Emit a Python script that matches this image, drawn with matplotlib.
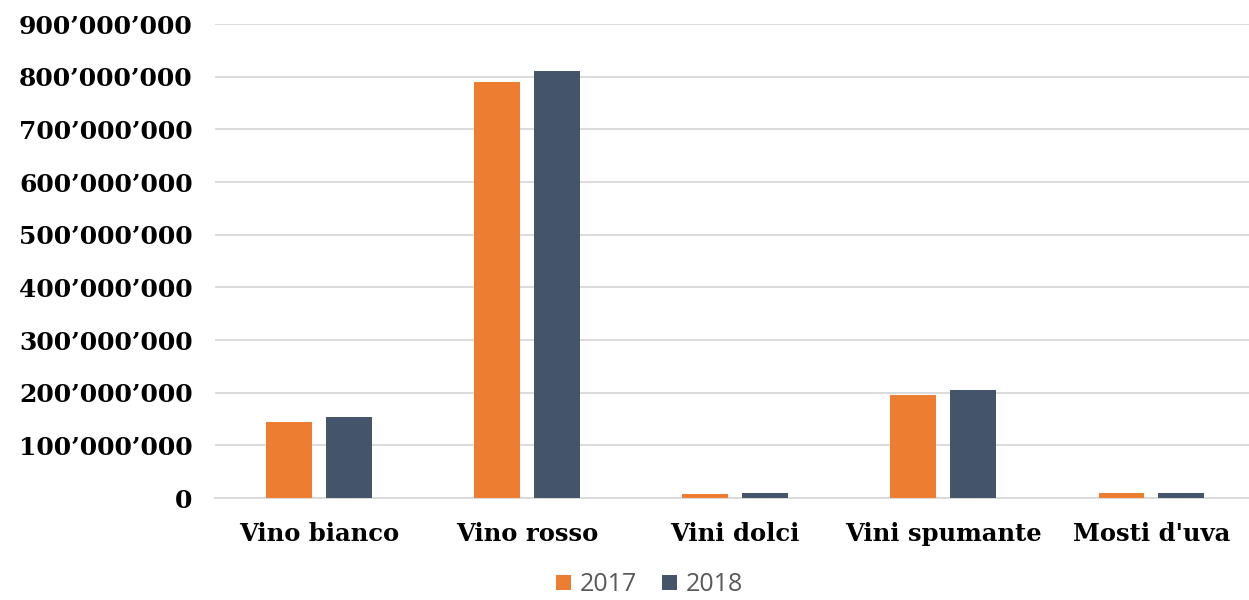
import numpy as np
import matplotlib.pyplot as plt
from matplotlib.ticker import FuncFormatter, MultipleLocator

categorie = ["Vino bianco", "Vino rosso", "Vini dolci", "Vini spumante", "Mosti d'uva"]
valori_2017 = [144_000_000, 789_000_000, 7_500_000, 196_000_000, 9_000_000]
valori_2018 = [153_000_000, 810_000_000, 9_000_000, 205_000_000, 9_500_000]
anni = ["2017", "2018"]

arancio = "#ED7D31"
blu = "#44546A"

fig = plt.figure(figsize=(12.49, 6), dpi=100)
ax = fig.add_axes([0.172, 0.17, 0.833, 0.79])

x = np.arange(len(categorie))
w = 0.22
ax.bar(x - 0.143, valori_2017, w, color=arancio, label=anni[0], zorder=3)
ax.bar(x + 0.143, valori_2018, w, color=blu, label=anni[1], zorder=3)

ax.set_xlim(-0.5, len(categorie) - 0.5)
ax.set_ylim(0, 900_000_000)
ax.yaxis.set_major_locator(MultipleLocator(100_000_000))
ax.yaxis.set_major_formatter(FuncFormatter(lambda v, p: f"{v:,.0f}".replace(",", "\u2019")))
ax.grid(axis="y", color="#D9D9D9", linewidth=1.3, zorder=0)

for s in ["top", "right", "left"]:
    ax.spines[s].set_visible(False)
ax.spines["bottom"].set_color("#D9D9D9")
ax.spines["bottom"].set_linewidth(1.3)
ax.tick_params(length=0)
ax.tick_params(axis="y", pad=16)
ax.tick_params(axis="x", pad=17)

ax.set_xticks(x)
ax.set_xticklabels(categorie, family="DejaVu Serif", fontsize=17.5, fontweight="bold")
for lab in ax.get_yticklabels():
    lab.set_family("DejaVu Serif")
    lab.set_fontsize(18)
    lab.set_fontweight("bold")

leg = fig.legend(loc="lower center", ncol=2, frameon=False, bbox_to_anchor=(0.52, -0.033),
                 prop={"family": "Open Sans", "size": 18}, handlelength=0.6, handleheight=0.6,
                 handletextpad=0.35, columnspacing=1.0)
for t in leg.get_texts():
    t.set_color("#595959")

fig.savefig("out.png", dpi=100, facecolor="white")
